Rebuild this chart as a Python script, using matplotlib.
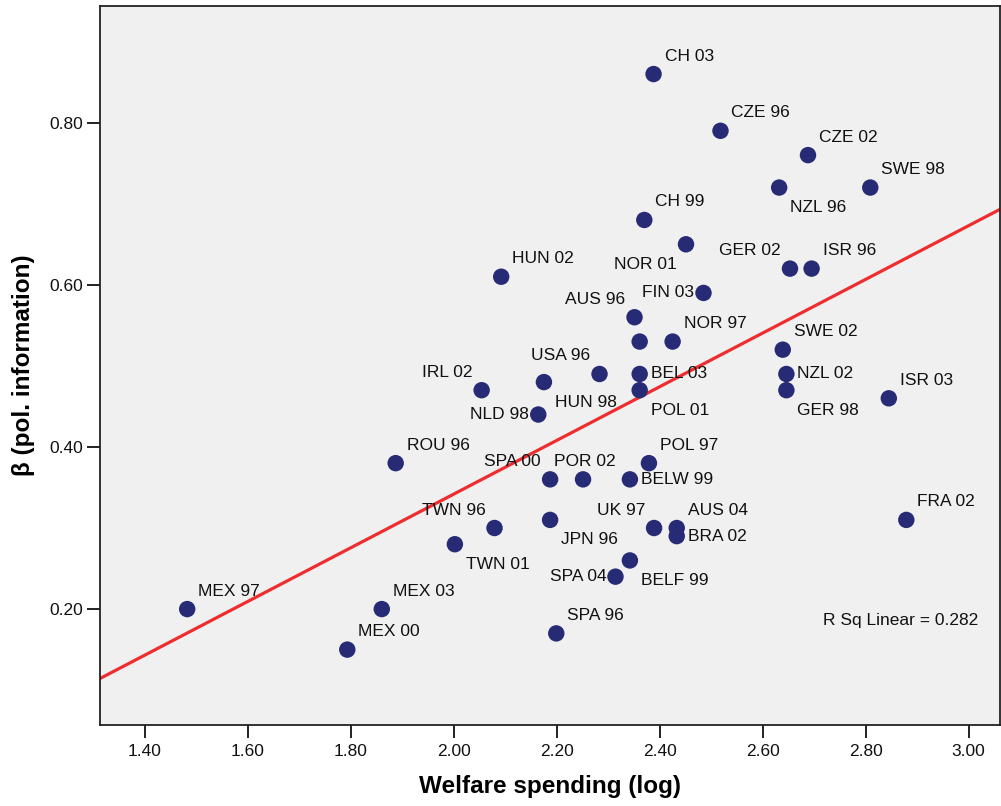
import numpy as np
import matplotlib
matplotlib.use("Agg")
import matplotlib.pyplot as plt

# ================= DATA =================
labels = [
    "CH 03", "CZE 96", "CZE 02", "NZL 96", "SWE 98", "CH 99", "NOR 01",
    "HUN 02", "GER 02", "ISR 96", "FIN 03", "AUS 96", "", "NOR 97",
    "SWE 02", "USA 96", "BEL 03", "HUN 98", "IRL 02", "POL 01", "NZL 02",
    "GER 98", "ISR 03", "NLD 98", "ROU 96", "POL 97", "SPA 00", "POR 02",
    "BELW 99", "TWN 96", "JPN 96", "UK 97", "AUS 04", "BRA 02", "TWN 01",
    "BELF 99", "SPA 04", "FRA 02", "MEX 03", "SPA 96", "MEX 97", "MEX 00",
]
welfare = [
    2.388, 2.518, 2.688, 2.632, 2.809, 2.370, 2.451,
    2.092, 2.653, 2.695, 2.485, 2.351, 2.361, 2.425,
    2.639, 2.283, 2.361, 2.175, 2.054, 2.361, 2.646,
    2.646, 2.845, 2.164, 1.887, 2.379, 2.187, 2.251,
    2.342, 2.079, 2.187, 2.389, 2.433, 2.433, 2.002,
    2.342, 2.314, 2.879, 1.860, 2.199, 1.482, 1.793,
]
beta = [
    0.86, 0.79, 0.76, 0.72, 0.72, 0.68, 0.65,
    0.61, 0.62, 0.62, 0.59, 0.56, 0.53, 0.53,
    0.52, 0.49, 0.49, 0.48, 0.47, 0.47, 0.49,
    0.47, 0.46, 0.44, 0.38, 0.38, 0.36, 0.36,
    0.36, 0.30, 0.31, 0.30, 0.30, 0.29, 0.28,
    0.26, 0.24, 0.31, 0.20, 0.17, 0.20, 0.15,
]

# where each label sits next to its dot (R = right, L = left, C = centred; up/level/down)
label_side = [
    "R", "R", "R", "R", "R", "R", "L",
    "R", "L", "R", "L", "L", "R", "R",
    "R", "L", "R", "R", "L", "R", "R",
    "R", "R", "L", "R", "R", "L", "C",
    "R", "L", "R", "L", "R", "R", "R",
    "R", "L", "R", "R", "R", "R", "R",
]
label_vert = [
    "up", "up", "up", "down", "up", "up", "down",
    "up", "up", "up", "level", "up", "up", "up",
    "up", "up", "level", "down", "up", "down", "level",
    "down", "up", "level", "up", "up", "up", "up",
    "level", "up", "down", "up", "up", "level", "down",
    "down", "level", "up", "up", "up", "up", "up",
]

x_ticks = [1.40, 1.60, 1.80, 2.00, 2.20, 2.40, 2.60, 2.80, 3.00]
y_ticks = [0.20, 0.40, 0.60, 0.80]

x = np.array(welfare)
y = np.array(beta)

# ================= FIT =================
slope, intercept = np.polyfit(x, y, 1)

# ================= PLOT =================
plt.rcParams['font.family'] = ['Liberation Sans', 'DejaVu Sans']

fig = plt.figure(figsize=(10.01, 8.06), dpi=100)
ax = fig.add_axes([0.0999, 0.1005, 0.8991, 0.8921])
ax.set_facecolor("#f0f0f0")

xlim = (1.3126, 3.061)
ylim = (0.057, 0.944)

xs = np.array(xlim)
ax.plot(xs, intercept + slope * xs, color="#ee2d2f", lw=2.3, zorder=2)

ax.scatter(x, y, s=140, color="#272a75", edgecolors="none", zorder=3)

dx_map = {"R": 11, "L": -9, "C": 2}
ha_map = {"R": "left", "L": "right", "C": "center"}
dy_map = {"up": 18, "level": 0, "down": -20}
for lab, xi, yi, side, vert in zip(labels, welfare, beta, label_side, label_vert):
    if not lab:
        continue
    ax.annotate(lab, (xi, yi), xytext=(dx_map[side], dy_map[vert]),
                textcoords="offset pixels", ha=ha_map[side], va="center",
                fontsize=12.5, color="#111111", zorder=4)

ax.text(0.976, 0.146, "R Sq Linear = 0.282", transform=ax.transAxes,
        ha="right", va="center", fontsize=12.5, color="#111111")

ax.set_xlim(xlim)
ax.set_ylim(ylim)
ax.set_xticks(x_ticks)
ax.set_xticklabels([f"{t:.2f}" for t in x_ticks])
ax.set_yticks(y_ticks)
ax.set_yticklabels([f"{t:.2f}" for t in y_ticks])
ax.tick_params(axis="both", direction="out", length=9.5, width=1.3,
               labelsize=12.5, colors="#111111")
ax.tick_params(axis="x", pad=4)
ax.tick_params(axis="y", pad=3)
for sp in ax.spines.values():
    sp.set_linewidth(1.3)
    sp.set_color("#222222")

ax.set_xlabel("Welfare spending (log)", fontsize=17.5, fontweight="bold", labelpad=12)
ax.set_ylabel("β (pol. information)", fontsize=17.5, fontweight="bold", labelpad=10)

fig.savefig("out.png", dpi=100)
